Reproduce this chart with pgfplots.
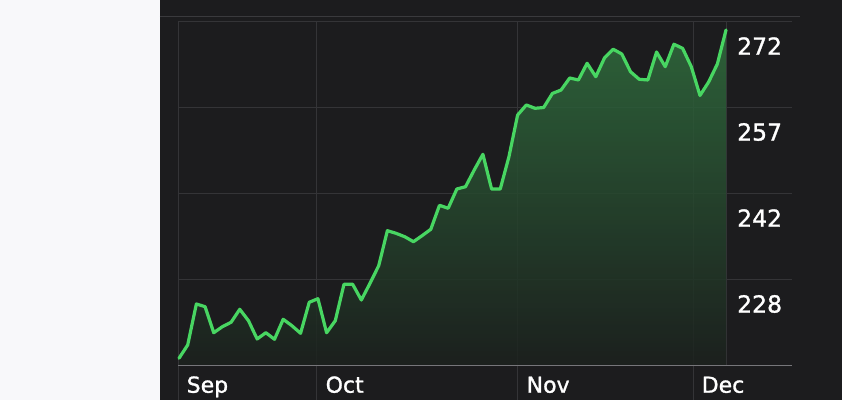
\documentclass[border=0pt]{standalone}
\usepackage{pgfplots}
\usepackage{pgfplotstable}
\pgfplotsset{compat=1.18}
\usepackage{fontspec}
\setmainfont{DejaVu Sans}[FakeBold=1.2]
\definecolor{bgdark}{RGB}{28,28,30}
\definecolor{bgleft}{RGB}{248,248,250}
\definecolor{gridc}{RGB}{52,52,55}
\definecolor{topc}{RGB}{58,58,61}
\definecolor{basec}{RGB}{118,118,122}
\definecolor{linec}{RGB}{72,214,98}
\definecolor{filltop}{RGB}{48,110,62}
\definecolor{fillbot}{RGB}{28,33,30}
\pgfplotstableread{
i v
0 214.65
1 216.91
2 223.91
3 223.45
4 219.01
5 220.04
6 220.79
7 223.00
8 221.06
9 217.94
10 219.01
11 217.89
12 221.30
13 220.21
14 218.91
15 224.20
16 224.81
17 219.01
18 221.06
19 227.27
20 227.27
21 224.59
22 227.44
23 230.44
24 236.41
25 235.96
26 235.38
27 234.53
28 235.56
29 236.65
30 240.74
31 240.23
32 243.52
33 243.91
34 246.76
35 249.44
36 243.52
37 243.52
38 249.03
39 256.14
40 257.85
41 257.28
42 257.42
43 259.81
44 260.40
45 262.45
46 262.11
47 264.96
48 262.67
49 265.86
50 267.36
51 266.54
52 263.52
53 262.23
54 262.11
55 266.88
56 264.38
57 268.21
58 267.51
59 264.38
60 259.47
61 261.77
62 264.84
63 270.64
}\data
\begin{document}
\begin{tikzpicture}
\fill[bgleft] (0,0) rectangle (160bp,400bp);
\fill[bgdark] (160bp,0) rectangle (842bp,400bp);
\begin{axis}[
  at={(178bp,34bp)}, anchor=south west,
  scale only axis, width=614bp, height=344bp,
  xmin=-0.115, xmax=70.6, ymin=213.333, ymax=272,
  clip=false,
  axis line style={draw=none},
  major tick length=0pt,
  xtick={-0.115,15.89,39.04,59.2},
  xticklabels={Sep,Oct,Nov,Dec},
  ytick={228,242.667,257.333,272},
  yticklabels={228,242,257,272},
  yticklabel pos=right,
  ymajorgrids, xmajorgrids=false,
  grid style={gridc, line width=1bp},
  xticklabel style={font=\fontsize{22bp}{26bp}\selectfont, text=white, anchor=base west, inner sep=0pt, xshift=8.5bp, yshift=-26.7bp},
  yticklabel style={font=\fontsize{23.5bp}{28bp}\selectfont, text=white, anchor=west, inner sep=0pt, xshift=-55bp, yshift=-24bp},
]
\pgfplotsinvokeforeach{-0.115,15.89,39.04,59.2}{
  \draw[gridc, line width=1bp] (axis cs:#1,272) -- (axis cs:#1,207.53);
}
\draw[gridc, line width=1bp] (axis cs:63.11,272) -- (axis cs:63.11,213.333);
\draw[topc, line width=1bp] (axis cs:-2.19,273.02) -- (axis cs:71.52,273.02);
\addplot[draw=none, top color=filltop, bottom color=fillbot, fill opacity=0.85] table[x=i,y=v] {\data} -- (axis cs:63,213.333) -- (axis cs:0,213.333) -- cycle;
\draw[basec, line width=1bp] (axis cs:-0.115,213.333) -- (axis cs:70.6,213.333);
\addplot[linec, line width=3.2bp, line join=round, line cap=round] table[x=i,y=v] {\data};
\end{axis}
\pgfresetboundingbox
\useasboundingbox (0,0) rectangle (842bp,400bp);
\end{tikzpicture}
\end{document}
